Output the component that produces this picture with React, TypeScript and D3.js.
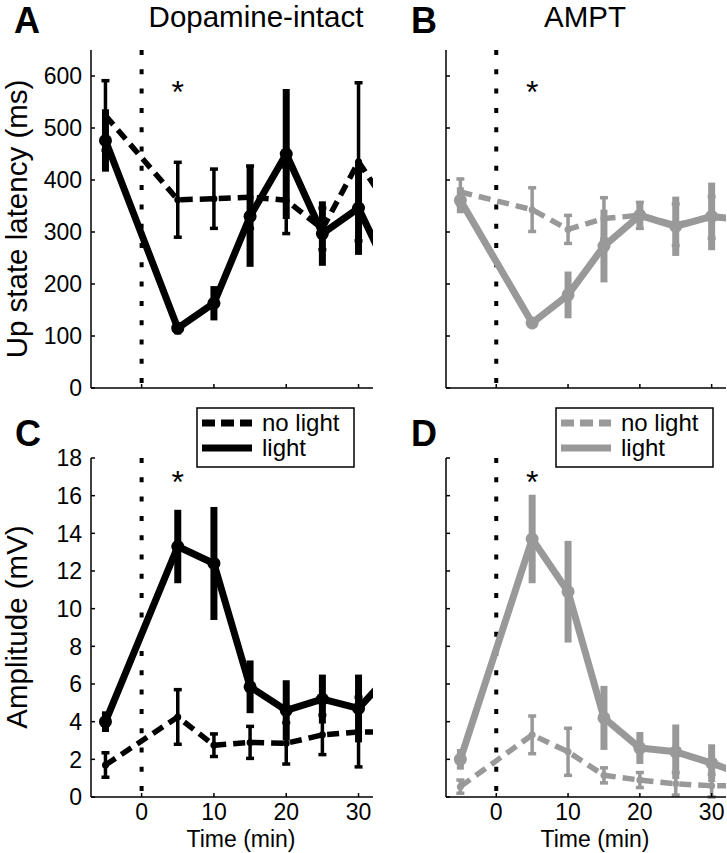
import React from "react";
import * as d3 from "d3";

const times = [-5, 5, 10, 15, 20, 25, 30, 35];

const latencyIntactLight = [476, 115, 163, 330, 450, 297, 346, 200];
const latencyIntactLightErr = [60, 12, 33, 97, 125, 62, 90, 60];
const latencyIntactNoLight = [524, 362, 364, 367, 361, 306, 435, 330];
const latencyIntactNoLightErr = [67, 72, 57, 60, 64, 40, 152, 60];

const latencyAmptLight = [361, 125, 179, 273, 332, 311, 330, 322];
const latencyAmptLightErr = [25, 8, 45, 70, 22, 57, 65, 40];
const latencyAmptNoLight = [377, 343, 305, 326, 332, 314, 328, 325];
const latencyAmptNoLightErr = [25, 42, 27, 40, 25, 40, 40, 30];

const ampIntactLight = [4.0, 13.3, 12.4, 5.85, 4.6, 5.2, 4.7, 6.8];
const ampIntactLightErr = [0.55, 1.95, 3.0, 1.4, 1.6, 1.3, 1.8, 1];
const ampIntactNoLight = [1.7, 4.25, 2.75, 2.9, 2.85, 3.3, 3.45, 3.45];
const ampIntactNoLightErr = [0.65, 1.45, 0.6, 0.85, 1.1, 1.05, 1.85, 1];

const ampAmptLight = [2.0, 13.7, 10.9, 4.2, 2.6, 2.4, 1.8, 1.1];
const ampAmptLightErr = [0.55, 2.35, 2.7, 1.7, 0.85, 1.45, 1.0, 0.5];
const ampAmptNoLight = [0.55, 3.3, 2.4, 1.15, 0.9, 0.7, 0.6, 0.6];
const ampAmptNoLightErr = [0.35, 1.0, 1.25, 0.4, 0.4, 0.6, 0.6, 0.3];

const xTicks = [0, 10, 20, 30];
const latencyTicks = [0, 100, 200, 300, 400, 500, 600];
const ampTicks = [0, 2, 4, 6, 8, 10, 12, 14, 16, 18];

const FONT = "'Liberation Sans', Arial, Helvetica, sans-serif";
const GRAY = "#999999";

type PanelProps = {
  id: string;
  left: number;
  right: number;
  top: number;
  bottom: number;
  yMax: number;
  yTicks: number[];
  showYLabels: boolean;
  showXLabels: boolean;
  color: string;
  light: number[];
  lightErr: number[];
  noLight: number[];
  noLightErr: number[];
  asteriskY: number;
};

function Panel(p: PanelProps) {
  const x = d3.scaleLinear().domain([-7, 32]).range([p.left, p.right]);
  const y = d3.scaleLinear().domain([0, p.yMax]).range([p.bottom, p.top]);
  const line = d3
    .line<number>()
    .x((_, i) => x(times[i]))
    .y((d) => y(d));
  const clipId = "clip-" + p.id;
  return (
    <g>
      <defs>
        <clipPath id={clipId}>
          <rect x={p.left} y={0} width={p.right - p.left} height={853} />
        </clipPath>
      </defs>
      <line
        x1={x(0)}
        x2={x(0)}
        y1={p.top}
        y2={p.bottom}
        stroke="#000"
        strokeWidth={4}
        strokeDasharray="5 14.3"
      />
      <g clipPath={`url(#${clipId})`}>
        <path
          d={line(p.noLight) || ""}
          fill="none"
          stroke={p.color}
          strokeWidth={5.5}
          strokeDasharray="12 7"
        />
        {p.noLight.map((v, i) => (
          <g key={"n" + i}>
            <line
              x1={x(times[i])}
              x2={x(times[i])}
              y1={y(v - p.noLightErr[i])}
              y2={y(v + p.noLightErr[i])}
              stroke={p.color}
              strokeWidth={3.5}
            />
            <line
              x1={x(times[i]) - 4}
              x2={x(times[i]) + 4}
              y1={y(v - p.noLightErr[i])}
              y2={y(v - p.noLightErr[i])}
              stroke={p.color}
              strokeWidth={3.5}
            />
            <line
              x1={x(times[i]) - 4}
              x2={x(times[i]) + 4}
              y1={y(v + p.noLightErr[i])}
              y2={y(v + p.noLightErr[i])}
              stroke={p.color}
              strokeWidth={3.5}
            />
            <circle cx={x(times[i])} cy={y(v)} r={3.5} fill={p.color} />
          </g>
        ))}
        <path
          d={line(p.light) || ""}
          fill="none"
          stroke={p.color}
          strokeWidth={7}
          strokeLinejoin="round"
        />
        {p.light.map((v, i) => (
          <g key={"l" + i}>
            <line
              x1={x(times[i])}
              x2={x(times[i])}
              y1={y(v - p.lightErr[i])}
              y2={y(v + p.lightErr[i])}
              stroke={p.color}
              strokeWidth={7}
            />
            <circle cx={x(times[i])} cy={y(v)} r={6.5} fill={p.color} />
          </g>
        ))}
      </g>
      <line x1={p.left} x2={p.left} y1={p.top} y2={p.bottom} stroke="#000" strokeWidth={1.5} />
      <line x1={p.left} x2={p.right} y1={p.bottom} y2={p.bottom} stroke="#000" strokeWidth={1.5} />
      {p.yTicks.map((t) => (
        <g key={"yt" + t}>
          <line x1={p.left} x2={p.left + 4} y1={y(t)} y2={y(t)} stroke="#000" strokeWidth={1.5} />
          {p.showYLabels && (
            <text
              x={p.left - 9}
              y={y(t)}
              dy="0.36em"
              textAnchor="end"
              fontSize={23}
              fontFamily={FONT}
            >
              {t}
            </text>
          )}
        </g>
      ))}
      {xTicks.map((t) => (
        <g key={"xt" + t}>
          <line x1={x(t)} x2={x(t)} y1={p.bottom} y2={p.bottom - 4} stroke="#000" strokeWidth={1.5} />
          {p.showXLabels && (
            <text x={x(t)} y={p.bottom + 23} textAnchor="middle" fontSize={23} fontFamily={FONT}>
              {t}
            </text>
          )}
        </g>
      ))}
      <text x={x(5)} y={p.asteriskY} textAnchor="middle" fontSize={32} fontFamily={FONT}>
        *
      </text>
    </g>
  );
}

function Legend({ x0, y0, color }: { x0: number; y0: number; color: string }) {
  return (
    <g>
      <rect x={x0} y={y0} width={157} height={59} fill="#fff" stroke="#000" strokeWidth={1.5} />
      <line
        x1={x0 + 5}
        x2={x0 + 55}
        y1={y0 + 15}
        y2={y0 + 15}
        stroke={color}
        strokeWidth={7}
        strokeDasharray="13 6"
      />
      <line x1={x0 + 5} x2={x0 + 55} y1={y0 + 40} y2={y0 + 40} stroke={color} strokeWidth={7} />
      <text x={x0 + 65} y={y0 + 23} fontSize={24} fontFamily={FONT}>
        no light
      </text>
      <text x={x0 + 65} y={y0 + 48} fontSize={24} fontFamily={FONT}>
        light
      </text>
    </g>
  );
}

export default function App() {
  return (
    <svg
      width={727}
      height={853}
      style={{ position: "absolute", left: 0, top: 0, background: "#fff" }}
    >
      <rect x={0} y={0} width={727} height={853} fill="#fff" />
      <Panel
        id="A"
        left={91}
        right={373}
        top={50}
        bottom={388}
        yMax={650}
        yTicks={latencyTicks}
        showYLabels={true}
        showXLabels={false}
        color="#000"
        light={latencyIntactLight}
        lightErr={latencyIntactLightErr}
        noLight={latencyIntactNoLight}
        noLightErr={latencyIntactNoLightErr}
        asteriskY={103}
      />
      <Panel
        id="B"
        left={446}
        right={726}
        top={50}
        bottom={388}
        yMax={650}
        yTicks={latencyTicks}
        showYLabels={false}
        showXLabels={false}
        color={GRAY}
        light={latencyAmptLight}
        lightErr={latencyAmptLightErr}
        noLight={latencyAmptNoLight}
        noLightErr={latencyAmptNoLightErr}
        asteriskY={103}
      />
      <Panel
        id="C"
        left={91}
        right={373}
        top={458}
        bottom={797}
        yMax={18}
        yTicks={ampTicks}
        showYLabels={true}
        showXLabels={true}
        color="#000"
        light={ampIntactLight}
        lightErr={ampIntactLightErr}
        noLight={ampIntactNoLight}
        noLightErr={ampIntactNoLightErr}
        asteriskY={493}
      />
      <Panel
        id="D"
        left={446}
        right={726}
        top={458}
        bottom={797}
        yMax={18}
        yTicks={ampTicks}
        showYLabels={false}
        showXLabels={true}
        color={GRAY}
        light={ampAmptLight}
        lightErr={ampAmptLightErr}
        noLight={ampAmptNoLight}
        noLightErr={ampAmptNoLightErr}
        asteriskY={493}
      />
      <Legend x0={197} y0={408} color="#000" />
      <Legend x0={556} y0={408} color={GRAY} />

      <text x={14} y={33} fontSize={36} fontWeight="bold" fontFamily={FONT}>A</text>
      <text x={411} y={33} fontSize={36} fontWeight="bold" fontFamily={FONT}>B</text>
      <text x={15} y={446} fontSize={36} fontWeight="bold" fontFamily={FONT}>C</text>
      <text x={411} y={446} fontSize={36} fontWeight="bold" fontFamily={FONT}>D</text>

      <text x={256} y={27} textAnchor="middle" fontSize={29.5} fontFamily={FONT}>Dopamine-intact</text>
      <text x={585} y={27} textAnchor="middle" fontSize={29.5} fontFamily={FONT}>AMPT</text>

      <text
        transform="translate(27,219) rotate(-90)"
        textAnchor="middle"
        fontSize={29.5}
        fontFamily={FONT}
      >
        Up state latency (ms)
      </text>
      <text
        transform="translate(27,627) rotate(-90)"
        textAnchor="middle"
        fontSize={29.5}
        fontFamily={FONT}
      >
        Amplitude (mV)
      </text>
      <text x={241} y={847} textAnchor="middle" fontSize={23} fontFamily={FONT}>Time (min)</text>
      <text x={595} y={847} textAnchor="middle" fontSize={23} fontFamily={FONT}>Time (min)</text>
    </svg>
  );
}
